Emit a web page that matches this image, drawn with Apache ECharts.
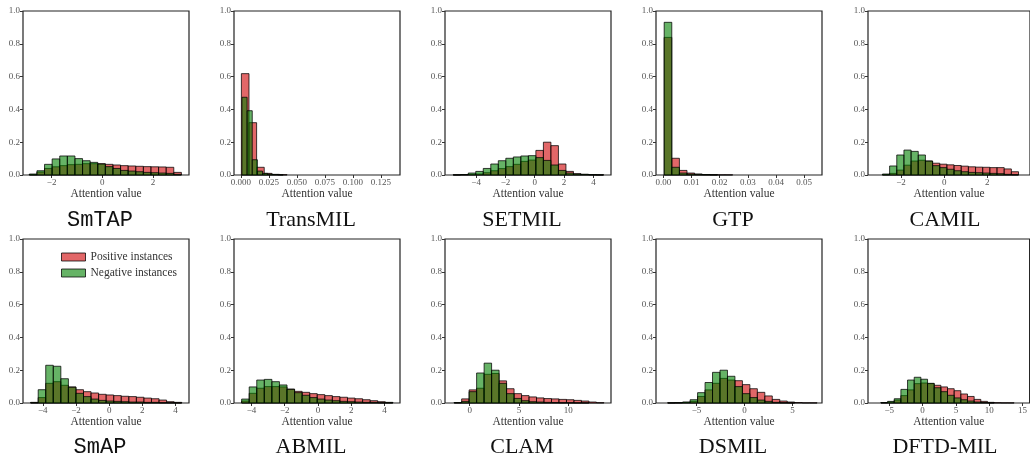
<!DOCTYPE html>
<html>
<head>
<meta charset="utf-8">
<title>Attention value histograms</title>
<script src="https://cdn.jsdelivr.net/npm/echarts@6/dist/echarts.min.js"></script>
<style>
  html, body { margin: 0; padding: 0; background: #fff; }
  #main { width: 1030px; height: 462px; }
</style>
</head>
<body>
<div id="main"></div>
<script>
// panel names, row by row
const panelNames = ['SmTAP', 'TransMIL', 'SETMIL', 'GTP', 'CAMIL', 'SmAP', 'ABMIL', 'CLAM', 'DSMIL', 'DFTD-MIL']
const monoTitles = ['SmTAP', 'SmAP']

// x axis ranges and tick labels
const xMin = [-3.13, -0.0062, -6.12, -0.0026, -3.53, -5.19, -5.05, -2.5, -9.22, -8.2]
const xMax = [3.42, 0.1421, 5.2, 0.0563, 3.98, 4.81, 4.94, 14.35, 8.07, 16.07]
const xTicks = [
  [-2, 0, 2],
  [0, 0.025, 0.05, 0.075, 0.1, 0.125],
  [-4, -2, 0, 2, 4],
  [0, 0.01, 0.02, 0.03, 0.04, 0.05],
  [-2, 0, 2],
  [-4, -2, 0, 2, 4],
  [-4, -2, 0, 2, 4],
  [0, 5, 10],
  [-5, 0, 5],
  [-5, 0, 5, 10, 15]
]
const xTickDigits = [0, 3, 0, 2, 0, 0, 0, 0, 0, 0]
const yTicks = [0, 0.2, 0.4, 0.6, 0.8, 1.0]

// histogram bins (first edge, bin width) for positive / negative instances
const posStart = [-2.88, 0.0004, -5.56, 0.0003, -2.86, -4.73, -4.59, -1.57, -8.0, -6.26]
const posWidth = [0.30, 0.0068, 0.5125, 0.0027, 0.332, 0.455, 0.455, 0.76, 0.778, 1.0]
const negStart = [-2.88, 0.0009, -5.56, 0.0003, -2.86, -4.73, -4.59, -1.57, -8.0, -6.26]
const negWidth = [0.30, 0.0046, 0.5125, 0.0027, 0.332, 0.455, 0.455, 0.76, 0.778, 1.0]

// fraction of instances per bin
const posHist = [
  [0.002, 0.018, 0.04, 0.05, 0.057, 0.063, 0.065, 0.069, 0.069, 0.069, 0.065, 0.061, 0.057, 0.055, 0.053, 0.051, 0.05, 0.049, 0.047, 0.016],
  [0.618, 0.319, 0.047, 0.01, 0.004, 0.002],
  [0.001, 0.002, 0.004, 0.006, 0.014, 0.026, 0.039, 0.051, 0.065, 0.083, 0.091, 0.15, 0.2, 0.179, 0.067, 0.022, 0.008, 0.004, 0.002, 0.001],
  [0.839, 0.102, 0.028, 0.012, 0.006, 0.003, 0.002, 0.001, 0.001],
  [0.002, 0.01, 0.03, 0.06, 0.085, 0.09, 0.085, 0.072, 0.066, 0.062, 0.058, 0.054, 0.05, 0.048, 0.047, 0.045, 0.045, 0.037, 0.02],
  [0.004, 0.033, 0.12, 0.13, 0.108, 0.098, 0.081, 0.069, 0.061, 0.053, 0.049, 0.045, 0.041, 0.039, 0.035, 0.03, 0.026, 0.018, 0.008, 0.004],
  [0.012, 0.059, 0.09, 0.1, 0.1, 0.098, 0.085, 0.071, 0.065, 0.057, 0.051, 0.045, 0.039, 0.035, 0.03, 0.026, 0.02, 0.014, 0.008, 0.004],
  [0.003, 0.025, 0.08, 0.09, 0.175, 0.18, 0.135, 0.087, 0.057, 0.045, 0.037, 0.031, 0.027, 0.025, 0.022, 0.02, 0.016, 0.012, 0.006, 0.002],
  [0.001, 0.002, 0.004, 0.01, 0.04, 0.08, 0.12, 0.15, 0.14, 0.136, 0.112, 0.087, 0.065, 0.043, 0.022, 0.012, 0.006, 0.003, 0.001, 0.001],
  [0.002, 0.006, 0.018, 0.045, 0.08, 0.118, 0.122, 0.118, 0.108, 0.098, 0.087, 0.075, 0.055, 0.04, 0.022, 0.01, 0.004, 0.002, 0.001, 0.001]
]
const negHist = [
  [0.006, 0.026, 0.065, 0.098, 0.116, 0.116, 0.1, 0.087, 0.077, 0.067, 0.051, 0.04, 0.028, 0.024, 0.02, 0.016, 0.014, 0.012, 0.01, 0.004],
  [0.474, 0.392, 0.093, 0.024, 0.01, 0.005, 0.003, 0.001],
  [0.001, 0.003, 0.012, 0.022, 0.04, 0.067, 0.087, 0.102, 0.11, 0.116, 0.118, 0.106, 0.089, 0.061, 0.028, 0.012, 0.006, 0.004, 0.002, 0.001],
  [0.931, 0.047, 0.012, 0.006, 0.004, 0.002, 0.001],
  [0.006, 0.055, 0.122, 0.152, 0.144, 0.122, 0.085, 0.057, 0.045, 0.035, 0.026, 0.02, 0.016, 0.014, 0.012, 0.01, 0.008, 0.004, 0.002],
  [0.002, 0.081, 0.23, 0.224, 0.148, 0.096, 0.059, 0.039, 0.024, 0.016, 0.012, 0.01, 0.008, 0.006, 0.006, 0.004, 0.004, 0.002, 0.002, 0.001],
  [0.024, 0.098, 0.14, 0.144, 0.13, 0.11, 0.083, 0.063, 0.047, 0.033, 0.024, 0.018, 0.014, 0.01, 0.008, 0.006, 0.004, 0.004, 0.002, 0.002],
  [0.002, 0.01, 0.069, 0.183, 0.243, 0.2, 0.12, 0.057, 0.028, 0.014, 0.008, 0.006, 0.004, 0.003, 0.002, 0.002, 0.001, 0.001],
  [0.001, 0.002, 0.006, 0.02, 0.063, 0.125, 0.187, 0.2, 0.163, 0.1, 0.057, 0.033, 0.018, 0.01, 0.004, 0.002, 0.001],
  [0.003, 0.01, 0.026, 0.083, 0.14, 0.157, 0.145, 0.12, 0.093, 0.069, 0.047, 0.031, 0.02, 0.012, 0.006, 0.003, 0.001]
]

const posColor = 'rgba(214, 39, 40, 0.7)'
const negColor = 'rgba(0, 128, 0, 0.6)'
const edgeColor = 'rgba(0, 0, 0, 0.75)'
const serif = "'Liberation Serif', 'DejaVu Serif', serif"

const colLeft = [23, 234, 445, 656, 868]
const rowTop = [11, 239]
const plotW = 166
const plotH = 164

function bins(start, width, hist) {
  return hist.map((h, i) => [start + i * width, start + (i + 1) * width, h])
}

function fmtTick(v, d) {
  const s = Math.abs(v).toFixed(d)
  return v < 0 ? '\u2212' + s : s
}

function histSeries(name, idx, data, fill) {
  return {
    name: name,
    type: 'custom',
    xAxisIndex: idx,
    yAxisIndex: idx,
    itemStyle: { color: fill, borderColor: edgeColor, borderWidth: 1 },
    encode: { x: [0, 1], y: 2 },
    data: data,
    silent: true,
    renderItem(params, api) {
      const p0 = api.coord([api.value(0), api.value(2)])
      const p1 = api.coord([api.value(1), 0])
      return {
        type: 'rect',
        shape: { x: p0[0], y: p0[1], width: p1[0] - p0[0], height: p1[1] - p0[1] },
        style: { fill: fill, stroke: edgeColor, lineWidth: 1 }
      }
    }
  }
}

const grids = []
const xAxes = []
const yAxes = []
const series = []
const graphics = []

panelNames.forEach((name, i) => {
  const left = colLeft[i % 5]
  const top = rowTop[Math.floor(i / 5)]
  grids.push({
    left: left, top: top, width: plotW, height: plotH,
    show: true, borderColor: '#222', borderWidth: 1.2, backgroundColor: 'transparent'
  })
  xAxes.push({
    type: 'value', gridIndex: i, min: xMin[i], max: xMax[i], position: 'bottom',
    name: 'Attention value', nameLocation: 'middle', nameGap: 12,
    nameTextStyle: { fontFamily: serif, fontSize: 11.5, color: '#333' },
    splitLine: { show: false },
    axisLine: { show: false, onZero: false },
    axisTick: { show: true, length: 3, lineStyle: { color: '#333' }, customValues: xTicks[i] },
    axisLabel: {
      customValues: xTicks[i], margin: 3,
      fontFamily: serif, fontSize: 9, color: '#555',
      formatter: v => fmtTick(v, xTickDigits[i])
    }
  })
  yAxes.push({
    type: 'value', gridIndex: i, min: 0, max: 1, position: 'left',
    splitLine: { show: false },
    axisLine: { show: false, onZero: false },
    axisTick: { show: true, length: 3, lineStyle: { color: '#333' }, customValues: yTicks },
    axisLabel: {
      customValues: yTicks, margin: 3,
      fontFamily: serif, fontSize: 9, color: '#555',
      formatter: v => v.toFixed(1)
    }
  })
  series.push(histSeries('Positive instances', i, bins(posStart[i], posWidth[i], posHist[i]), posColor))
  series.push(histSeries('Negative instances', i, bins(negStart[i], negWidth[i], negHist[i]), negColor))

  const mono = monoTitles.includes(name)
  graphics.push({
    type: 'text',
    x: left + plotW / 2 - 6,
    y: i < 5 ? 220 : 447,
    style: {
      text: name,
      textAlign: 'center',
      textVerticalAlign: 'middle',
      fontFamily: mono ? "'Liberation Mono', 'DejaVu Sans Mono', monospace" : serif,
      fontSize: 22,
      fill: '#111'
    }
  })
})

const chart = echarts.init(document.getElementById('main'), null, { renderer: 'canvas' })
chart.setOption({
  animation: false,
  backgroundColor: '#fff',
  grid: grids,
  xAxis: xAxes,
  yAxis: yAxes,
  legend: {
    orient: 'vertical',
    left: 56,
    top: 246,
    itemWidth: 24,
    itemHeight: 8,
    itemGap: 4,
    selectedMode: false,
    textStyle: { fontFamily: serif, fontSize: 11.5, color: '#333' },
    data: [
      { name: 'Positive instances', icon: 'rect', itemStyle: { color: posColor, borderColor: edgeColor, borderWidth: 1 } },
      { name: 'Negative instances', icon: 'rect', itemStyle: { color: negColor, borderColor: edgeColor, borderWidth: 1 } }
    ]
  },
  graphic: graphics,
  series: series
})
</script>
</body>
</html>
